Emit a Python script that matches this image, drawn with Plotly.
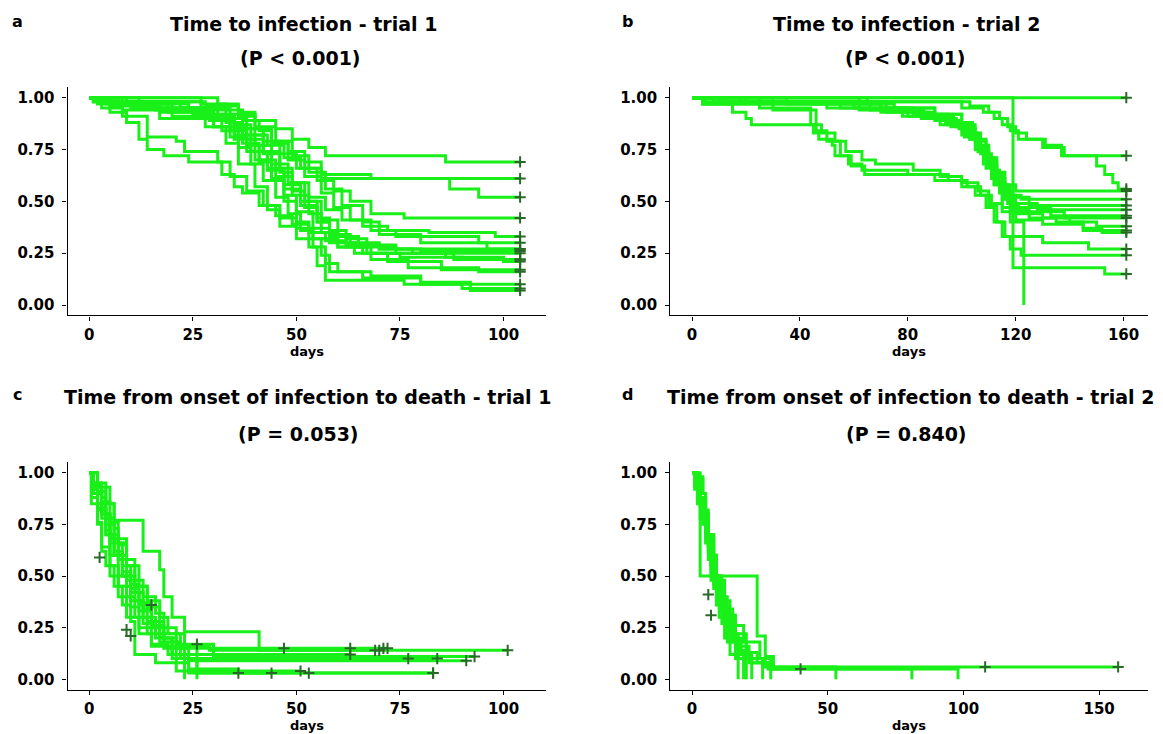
import plotly.graph_objects as go

# ---------------- data ----------------
# Panel a: time to infection - trial 1 (step times and survival after each step)
A_TIMES = [
    [31, 36, 40, 45, 49, 53, 57, 86],
    [27, 33, 37, 41, 44, 48, 52, 56, 68],
    [3, 22, 30, 35, 39, 43, 47, 51, 56, 87, 94],
    [8, 24, 33, 38, 42, 46, 50, 55, 59, 63, 68, 76],
    [1, 14, 28, 34, 38, 42, 46, 49, 53, 57, 61, 66, 72, 82, 98],
    [5, 17, 30, 35, 39, 43, 47, 51, 55, 58, 62, 67, 74],
    [1, 5, 9, 12, 14, 18, 24, 32, 35, 37, 41, 45, 49, 53, 57, 62, 70, 80],
    [3, 8, 14, 21, 23, 31, 34, 38, 42, 46, 50, 54, 60, 66, 88],
    [2, 10, 20, 28, 33, 36, 40, 43, 46, 50, 53, 55, 57, 76, 90],
    [4, 16, 26, 32, 36, 39, 42, 45, 48, 51, 54, 57, 60, 68, 80, 92],
    [6, 19, 29, 34, 38, 41, 44, 47, 50, 54, 58, 64, 72, 85],
    [9, 22, 31, 35, 40, 44, 48, 52, 56, 60, 65, 74, 86, 100],
    [2, 12, 25, 33, 37, 42, 46, 49, 52, 55, 58, 63, 70, 78],
    [7, 28, 36, 40, 44, 48, 52, 56, 59, 63, 68, 74, 94],
    [3, 15, 26, 30, 34, 38, 43, 47, 51, 55, 58, 62, 67, 75, 90],
    [5, 20, 30, 34, 37, 41, 45, 49, 53, 56, 60, 68, 77, 94],
    [12, 27, 34, 40, 45, 49, 53, 57, 61, 66, 70, 80, 96],
    [1, 8, 17, 30, 35, 40, 44, 47, 50, 53, 56, 58, 66, 80],
]
A_SURV = [
    [0.97, 0.93, 0.89, 0.85, 0.80, 0.76, 0.72, 0.69],
    [0.97, 0.94, 0.89, 0.84, 0.79, 0.74, 0.69, 0.63, 0.61],
    [0.98, 0.95, 0.92, 0.87, 0.82, 0.77, 0.71, 0.66, 0.61, 0.56, 0.52],
    [0.97, 0.94, 0.90, 0.85, 0.79, 0.73, 0.66, 0.60, 0.55, 0.50, 0.44, 0.42],
    [0.98, 0.95, 0.91, 0.86, 0.80, 0.73, 0.66, 0.59, 0.52, 0.46, 0.41, 0.38, 0.36, 0.35, 0.33],
    [0.96, 0.93, 0.89, 0.82, 0.74, 0.66, 0.58, 0.50, 0.42, 0.36, 0.32, 0.29, 0.27],
    [0.98, 0.93, 0.88, 0.80, 0.75, 0.72, 0.69, 0.63, 0.57, 0.54, 0.48, 0.43, 0.39, 0.35, 0.31, 0.29, 0.27, 0.26],
    [0.95, 0.91, 0.81, 0.79, 0.74, 0.69, 0.62, 0.55, 0.48, 0.42, 0.37, 0.32, 0.28, 0.25, 0.22],
    [0.98, 0.95, 0.91, 0.86, 0.78, 0.68, 0.57, 0.46, 0.38, 0.32, 0.28, 0.19, 0.12, 0.10, 0.08],
    [0.97, 0.94, 0.90, 0.84, 0.76, 0.68, 0.60, 0.52, 0.44, 0.36, 0.28, 0.20, 0.16, 0.14, 0.11, 0.07],
    [0.97, 0.93, 0.89, 0.84, 0.77, 0.69, 0.61, 0.53, 0.45, 0.37, 0.30, 0.25, 0.21, 0.17],
    [0.98, 0.95, 0.91, 0.85, 0.77, 0.68, 0.59, 0.50, 0.41, 0.33, 0.28, 0.25, 0.23, 0.21],
    [0.97, 0.95, 0.92, 0.88, 0.82, 0.74, 0.64, 0.55, 0.47, 0.40, 0.34, 0.30, 0.27, 0.25],
    [0.98, 0.96, 0.91, 0.85, 0.78, 0.70, 0.62, 0.54, 0.47, 0.41, 0.36, 0.33, 0.30],
    [0.98, 0.95, 0.91, 0.86, 0.81, 0.74, 0.65, 0.56, 0.48, 0.40, 0.33, 0.28, 0.25, 0.23, 0.22],
    [0.97, 0.94, 0.90, 0.84, 0.78, 0.70, 0.62, 0.53, 0.44, 0.35, 0.28, 0.22, 0.18, 0.16],
    [0.98, 0.95, 0.92, 0.86, 0.79, 0.72, 0.64, 0.56, 0.48, 0.40, 0.34, 0.30, 0.27],
    [0.98, 0.94, 0.90, 0.86, 0.80, 0.70, 0.60, 0.50, 0.40, 0.32, 0.24, 0.16, 0.13, 0.10],
]
A_END = [104, 104, 104, 104, 104, 104, 104, 104, 104, 104, 104, 104, 104, 104, 104, 104, 104, 104]

# Panel b: time to infection - trial 2
B_TIMES = [
    [],
    [62, 100, 108, 112, 115, 118, 121, 130, 138],
    [65, 103, 110, 114, 117, 120, 124, 131, 137, 150, 153, 156, 158],
    [30, 75, 90, 100, 104, 107, 110, 113, 116, 120],
    [10, 60, 82, 95, 102, 106, 109, 112, 115, 118, 122],
    [25, 70, 88, 98, 103, 107, 111, 114, 117, 125],
    [5, 50, 78, 92, 100, 105, 108, 111, 114, 117, 128],
    [18, 62, 85, 96, 103, 107, 110, 113, 116, 119, 133],
    [35, 72, 90, 99, 105, 109, 112, 115, 118, 121, 130, 140, 150],
    [8, 55, 80, 94, 101, 106, 109, 112, 115, 118, 125, 135, 145, 152],
    [4, 15, 20, 22, 45, 47, 52, 53, 58, 63, 80, 95, 102, 107, 111, 115, 120, 130, 145],
    [4, 25, 44, 48, 53, 57, 63, 68, 82, 92, 100, 106, 110, 113, 116, 130, 147],
    [4, 30, 46, 50, 55, 59, 64, 90, 100, 105, 109, 112, 115, 118, 122],
    [119, 153],
    [12, 70, 90, 100, 105, 109, 112, 115, 118, 123],
    [20, 66, 86, 97, 102, 106, 110, 113, 116, 120, 138],
]
B_SURV = [
    [],
    [0.98, 0.95, 0.93, 0.90, 0.87, 0.84, 0.80, 0.76, 0.72],
    [0.98, 0.96, 0.93, 0.90, 0.86, 0.83, 0.80, 0.77, 0.72, 0.67, 0.63, 0.59, 0.56],
    [0.97, 0.95, 0.92, 0.88, 0.83, 0.77, 0.71, 0.64, 0.58, 0.55],
    [0.98, 0.95, 0.92, 0.88, 0.83, 0.77, 0.70, 0.63, 0.57, 0.53, 0.51],
    [0.97, 0.93, 0.90, 0.86, 0.80, 0.73, 0.65, 0.58, 0.52, 0.48],
    [0.98, 0.95, 0.91, 0.87, 0.82, 0.75, 0.68, 0.61, 0.54, 0.49, 0.46],
    [0.98, 0.94, 0.90, 0.86, 0.80, 0.74, 0.67, 0.59, 0.52, 0.47, 0.43],
    [0.97, 0.93, 0.89, 0.85, 0.79, 0.71, 0.63, 0.55, 0.48, 0.44, 0.42, 0.40, 0.38],
    [0.98, 0.95, 0.91, 0.87, 0.81, 0.74, 0.66, 0.58, 0.51, 0.46, 0.42, 0.40, 0.37, 0.35],
    [0.97, 0.93, 0.90, 0.87, 0.83, 0.80, 0.77, 0.72, 0.68, 0.65, 0.63, 0.60, 0.57, 0.53, 0.49, 0.45, 0.41, 0.39, 0.36],
    [0.97, 0.95, 0.87, 0.83, 0.79, 0.74, 0.70, 0.68, 0.65, 0.62, 0.59, 0.55, 0.48, 0.40, 0.33, 0.30, 0.27],
    [0.97, 0.94, 0.84, 0.79, 0.72, 0.67, 0.63, 0.60, 0.57, 0.53, 0.47, 0.40, 0.33, 0.27, 0.24],
    [0.18, 0.15],
    [0.98, 0.95, 0.92, 0.87, 0.80, 0.70, 0.58, 0.47, 0.40, 0.0],
    [0.98, 0.94, 0.91, 0.87, 0.82, 0.76, 0.69, 0.61, 0.53, 0.45, 0.42],
]
B_END = [161, 161, 161, 161, 161, 161, 161, 161, 161, 161, 161, 161, 161, 161, 123, 161]

# Panel c: time from onset of infection to death - trial 1
C_TIMES = [
    [2, 5, 6, 13, 17, 18, 20, 23, 41],
    [1, 2, 4, 5, 7, 9, 11, 14, 18, 26],
    [1, 3, 4, 6, 8, 10, 12, 15, 17, 21, 24],
    [0.5, 2, 3, 5, 7, 9, 12, 15, 19, 23],
    [1, 2, 4, 6, 8, 10, 13, 16, 20, 26],
    [1, 3, 5, 7, 9, 11, 14, 17, 21, 30],
    [2, 4, 5, 7, 9, 11, 13, 16, 18, 24],
    [1, 2, 4, 5, 7, 10, 12, 15, 20],
    [0.5, 2, 3, 4, 6, 8, 10, 11, 16, 21],
    [2, 4, 6, 7, 9, 12, 14, 17, 19, 22, 29],
    [1, 3, 5, 8, 10, 12, 15, 18, 21, 26],
    [1, 3, 4, 6, 9, 11, 13, 16, 18, 23],
    [2, 3, 5, 6, 8, 10, 12, 14, 17, 20, 24, 36],
    [1, 2, 3, 5, 7, 9, 11, 13, 15, 18, 22, 26],
]
C_SURV = [
    [0.93, 0.85, 0.77, 0.62, 0.53, 0.40, 0.30, 0.23, 0.14],
    [0.92, 0.83, 0.72, 0.60, 0.50, 0.40, 0.30, 0.22, 0.16, 0.15],
    [0.90, 0.80, 0.70, 0.60, 0.50, 0.42, 0.33, 0.25, 0.18, 0.08, 0.03],
    [0.88, 0.76, 0.64, 0.50, 0.40, 0.30, 0.22, 0.17, 0.12, 0.0],
    [0.95, 0.85, 0.75, 0.62, 0.50, 0.38, 0.27, 0.20, 0.12, 0.0],
    [0.94, 0.86, 0.76, 0.66, 0.55, 0.45, 0.35, 0.25, 0.17, 0.11],
    [0.91, 0.80, 0.68, 0.58, 0.48, 0.38, 0.30, 0.22, 0.15, 0.09],
    [0.92, 0.82, 0.70, 0.55, 0.45, 0.35, 0.25, 0.16, 0.10],
    [0.85, 0.75, 0.62, 0.55, 0.45, 0.36, 0.28, 0.12, 0.08, 0.04],
    [0.95, 0.85, 0.73, 0.65, 0.55, 0.45, 0.38, 0.30, 0.22, 0.16, 0.14],
    [0.90, 0.80, 0.66, 0.55, 0.46, 0.37, 0.28, 0.20, 0.15, 0.12],
    [0.95, 0.88, 0.78, 0.68, 0.58, 0.48, 0.40, 0.32, 0.22, 0.10],
    [0.90, 0.80, 0.70, 0.60, 0.52, 0.44, 0.36, 0.28, 0.20, 0.12, 0.05, 0.03],
    [0.93, 0.85, 0.78, 0.70, 0.60, 0.50, 0.42, 0.34, 0.26, 0.18, 0.10, 0.03],
]
C_END = [101, 72, 83, 23, 26, 93, 91, 84, 51, 70, 63, 77, 44, 83]
C_CENS_T = [2.5, 9, 10, 15, 26, 36, 47, 53, 63, 69, 71]
C_CENS_S = [0.59, 0.24, 0.21, 0.36, 0.17, 0.03, 0.15, 0.03, 0.15, 0.14, 0.15]

# Panel d: time from onset of infection to death - trial 2
D_TIMES = [
    [2, 3, 24, 27, 30],
    [1, 2, 4, 5, 6, 7, 8, 9, 11, 13, 16, 20],
    [1, 3, 4, 5, 6, 7, 9, 10, 12, 14, 17],
    [2, 3, 5, 6, 7, 8, 10, 12, 14, 18, 22, 28, 98],
    [1, 2, 3, 5, 7, 8, 9, 11, 13, 16, 21, 26, 30, 81],
    [2, 4, 5, 6, 8, 9, 11, 12, 15, 19, 25, 29, 53],
    [1, 2, 4, 6, 7, 8, 10, 12, 14, 17, 22],
    [3, 4, 5, 6, 8, 9, 10, 13, 16, 20, 24, 29],
    [1, 3, 5, 6, 7, 9, 11, 13, 15, 18, 21, 26],
    [2, 3, 4, 6, 7, 8, 10, 11, 14, 17, 19],
    [1, 2, 5, 6, 8, 9, 12, 14, 16, 20, 27, 30],
]
D_SURV = [
    [0.95, 0.50, 0.21, 0.11, 0.06],
    [0.95, 0.88, 0.80, 0.70, 0.62, 0.52, 0.44, 0.36, 0.27, 0.18, 0.10, 0.0],
    [0.96, 0.85, 0.75, 0.66, 0.58, 0.48, 0.38, 0.30, 0.20, 0.12, 0.0],
    [0.97, 0.90, 0.80, 0.70, 0.60, 0.50, 0.40, 0.30, 0.20, 0.12, 0.08, 0.05, 0.0],
    [0.93, 0.85, 0.78, 0.68, 0.58, 0.48, 0.40, 0.32, 0.24, 0.16, 0.10, 0.07, 0.05, 0.0],
    [0.98, 0.90, 0.80, 0.70, 0.60, 0.50, 0.42, 0.34, 0.26, 0.18, 0.10, 0.06, 0.0],
    [0.94, 0.86, 0.77, 0.65, 0.55, 0.46, 0.36, 0.27, 0.18, 0.10, 0.0],
    [0.97, 0.90, 0.82, 0.70, 0.60, 0.50, 0.40, 0.31, 0.22, 0.13, 0.08, 0.0],
    [0.92, 0.84, 0.75, 0.64, 0.55, 0.45, 0.35, 0.27, 0.19, 0.12, 0.08, 0.0],
    [0.96, 0.88, 0.80, 0.70, 0.60, 0.50, 0.41, 0.32, 0.22, 0.14, 0.0],
    [0.95, 0.88, 0.78, 0.68, 0.58, 0.48, 0.38, 0.28, 0.18, 0.10, 0.06, 0.05],
]
D_END = [157, 20, 17, 98, 81, 53, 22, 29, 26, 19, 40]
D_CENS_T = [108, 6, 7]
D_CENS_S = [0.06, 0.41, 0.31]

X_TICKS = {"a": [0, 25, 50, 75, 100], "b": [0, 40, 80, 120, 160],
           "c": [0, 25, 50, 75, 100], "d": [0, 50, 100, 150]}
X_RANGES = {"a": [-5.25, 110.25], "b": [-8.05, 169.05],
            "c": [-5.25, 110.25], "d": [-8.0, 168.0]}
Y_TICKS = [0, 0.25, 0.5, 0.75, 1.0]
Y_TICKTEXT = ["0.00", "0.25", "0.50", "0.75", "1.00"]

PANEL_LETTERS = ["a", "b", "c", "d"]
PANEL_TITLES = ["Time to infection - trial 1", "Time to infection - trial 2",
                "Time from onset of infection to death - trial 1",
                "Time from onset of infection to death - trial 2"]
PANEL_P = ["(P < 0.001)", "(P < 0.001)", "(P = 0.053)", "(P = 0.840)"]
X_LABEL = "days"

# ---------------- styling ----------------
PAGE_W, PAGE_H = 1163, 734
OFF = 8  # default page margin of the html body
W, H = PAGE_W - OFF, PAGE_H - OFF
LINE_COLOR = "rgb(25,240,25)"
CENS_COLOR = "rgb(40,105,40)"
FONT = "DejaVu Sans, Verdana, sans-serif"

# panel boxes in page pixels: (left, right, top, bottom)
BOXES = {
    "a": (67.5, 546.0, 87.3, 315.4),
    "b": (670.3, 1148.0, 87.3, 315.4),
    "c": (67.5, 546.0, 462.4, 689.6),
    "d": (670.3, 1148.0, 462.4, 689.6),
}


def px(x):
    return (x - OFF) / W


def py(y):
    return 1 - (y - OFF) / H


fig = go.Figure()

panels = {
    "a": (A_TIMES, A_SURV, A_END, [], []),
    "b": (B_TIMES, B_SURV, B_END, [], []),
    "c": (C_TIMES, C_SURV, C_END, C_CENS_T, C_CENS_S),
    "d": (D_TIMES, D_SURV, D_END, D_CENS_T, D_CENS_S),
}

for i, key in enumerate(["a", "b", "c", "d"]):
    times, survs, ends, ct, cs = panels[key]
    xa = "x" if i == 0 else f"x{i+1}"
    ya = "y" if i == 0 else f"y{i+1}"
    cx, cy = list(ct), list(cs)
    for t, s, e in zip(times, survs, ends):
        xs = [0] + list(t) + [e]
        last = s[-1] if s else 1.0
        ys = [1.0] + list(s) + [last]
        fig.add_trace(go.Scatter(x=xs, y=ys, mode="lines", line=dict(color=LINE_COLOR, width=3, shape="hv"),
                                 xaxis=xa, yaxis=ya, showlegend=False, hoverinfo="skip"))
        if last > 0:
            cx.append(e)
            cy.append(last)
    fig.add_trace(go.Scatter(x=cx, y=cy, mode="markers",
                             marker=dict(symbol="cross-thin", size=8, line=dict(color=CENS_COLOR, width=2)),
                             xaxis=xa, yaxis=ya, showlegend=False, hoverinfo="skip"))

axis_common = dict(showline=True, linecolor="black", linewidth=1.2, ticks="outside", ticklen=4,
                   tickwidth=1.2, tickcolor="black", showgrid=False, zeroline=False, automargin=False,
                   tickfont=dict(family=FONT, size=15, color="black", weight="bold"))

layout = dict(width=W, height=H, margin=dict(l=0, r=0, t=0, b=0, pad=0, autoexpand=False),
              paper_bgcolor="white", plot_bgcolor="white", showlegend=False)

for i, key in enumerate(["a", "b", "c", "d"]):
    l, r, t, b = BOXES[key]
    xname = "xaxis" if i == 0 else f"xaxis{i+1}"
    yname = "yaxis" if i == 0 else f"yaxis{i+1}"
    xa = "x" if i == 0 else f"x{i+1}"
    ya = "y" if i == 0 else f"y{i+1}"
    layout[xname] = dict(axis_common, domain=[px(l), px(r)], range=X_RANGES[key], anchor=ya,
                         tickvals=X_TICKS[key], ticklabelstandoff=1)
    layout[yname] = dict(axis_common, domain=[py(b), py(t)], range=[-0.05, 1.05], anchor=xa,
                         tickvals=Y_TICKS, ticktext=Y_TICKTEXT, ticklabelstandoff=5)

fig.update_layout(**layout)

# titles / labels (page pixel positions)
ann = []
LETTER_POS = [(17, 21), (627, 21), (17, 394), (627, 394)]
TITLE_POS = [(303, 24), (906, 24), (307, 397), (910, 397)]
P_POS = [(300, 58), (905, 58), (299, 434), (906, 434)]
for i in range(4):
    l, r, t, b = BOXES[PANEL_LETTERS[i]]
    ann.append(dict(text=PANEL_LETTERS[i], x=px(LETTER_POS[i][0]), y=py(LETTER_POS[i][1]),
                    font=dict(family=FONT, size=16, color="black", weight="bold")))
    ann.append(dict(text=PANEL_TITLES[i], x=px(TITLE_POS[i][0]), y=py(TITLE_POS[i][1]),
                    font=dict(family=FONT, size=19, color="black", weight="bold")))
    ann.append(dict(text=PANEL_P[i], x=px(P_POS[i][0]), y=py(P_POS[i][1]),
                    font=dict(family=FONT, size=19, color="black", weight="bold")))
    ann.append(dict(text=X_LABEL, x=px((l + r) / 2), y=py(b + 36),
                    font=dict(family=FONT, size=13, color="black", weight="bold")))
for a in ann:
    a.update(xref="paper", yref="paper", showarrow=False, xanchor="center", yanchor="middle")
fig.update_layout(annotations=ann)

fig.write_html("out.html")
